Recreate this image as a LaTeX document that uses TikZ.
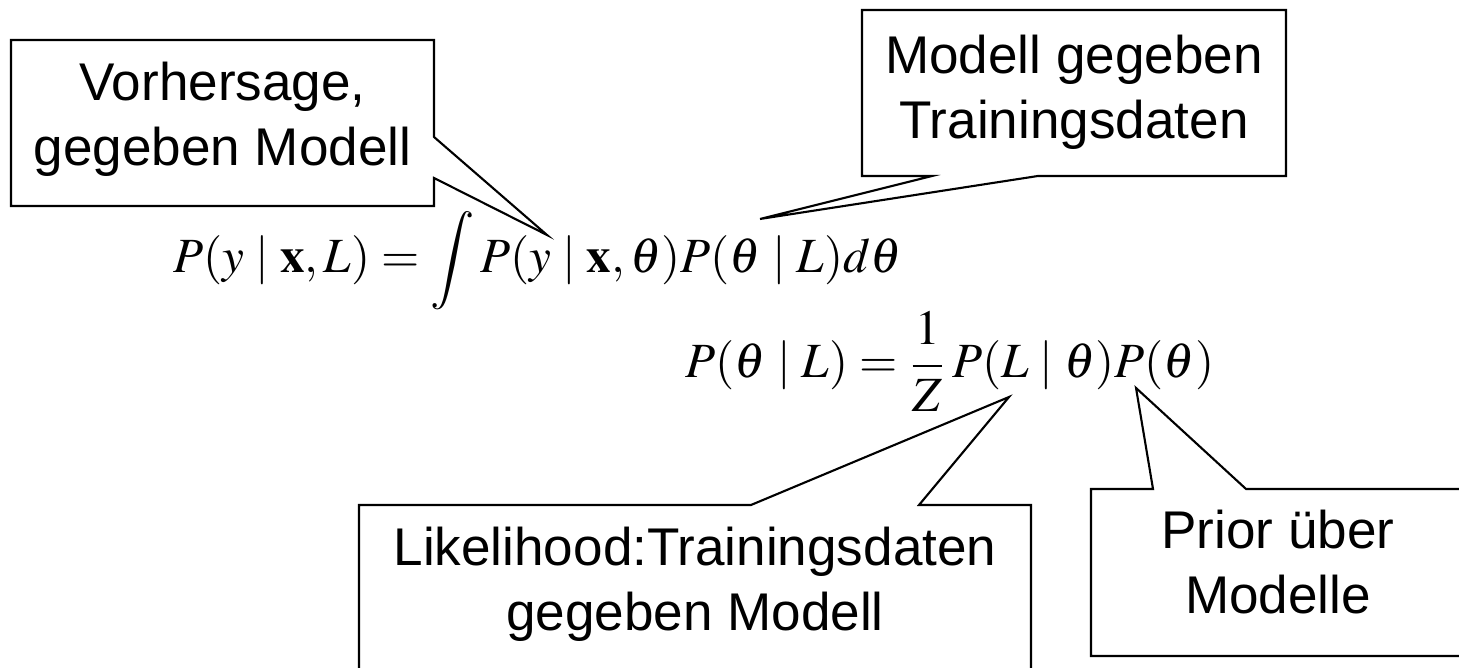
\documentclass[tikz,border=0pt]{standalone}
\usepackage{mathptmx}
\usepackage[no-math]{fontspec}
\setmainfont{Liberation Sans}
\usetikzlibrary{positioning}

\tikzset{
  callout/.style={draw, line width=0.6pt, line join=miter, fill=white},
  calltext/.style={font=\fontsize{15.1}{18.5}\selectfont, align=center, inner sep=0pt},
  formula/.style={font=\fontsize{14}{16.8}\selectfont, inner sep=0pt, anchor=base west}
}

\begin{document}
\begin{tikzpicture}[scale=1]
  \useasboundingbox (0,0) rectangle (14.59,6.68);
  \clip (0,0) rectangle (14.59,6.68);

  % Formulas
  \node[formula] (predict) at (1.73,3.95)
    {$\displaystyle P(y\mid\mathbf{x},L)=\int P(y\mid\mathbf{x},\theta)P(\theta\mid L)d\theta$};
  \node[formula] (bayes) at (6.85,2.90)
    {$\displaystyle P(\theta\mid L)=\frac{1}{Z}\,P(L\mid\theta)P(\theta)$};

  % Pointer tips
  \coordinate (tippred)  at (5.47,4.33);
  \coordinate (tippost)  at (7.60,4.49);
  \coordinate (tiplike)  at (10.09,2.71);
  \coordinate (tipprior) at (11.36,2.80);

  % Callout boxes
  \draw[callout] (0.11,6.28) -- (4.34,6.28) -- (4.34,5.31) -- (tippred)
    -- (4.34,4.90) -- (4.34,4.62) -- (0.11,4.62) -- cycle;
  \draw[callout] (8.62,6.58) -- (12.86,6.58) -- (12.86,4.92) -- (10.38,4.92)
    -- (tippost) -- (9.32,4.92) -- (8.62,4.92) -- cycle;
  \draw[callout] (3.59,1.63) -- (7.51,1.63) -- (tiplike) -- (9.19,1.63)
    -- (10.31,1.63) -- (10.31,-0.5) -- (3.59,-0.5) -- cycle;
  \draw[callout] (10.91,1.79) -- (11.53,1.79) -- (tipprior) -- (12.46,1.79)
    -- (14.65,1.79) -- (14.65,0.12) -- (10.91,0.12) -- cycle;

  % Labels
  \node[calltext] (vorhersage) at (2.225,5.485) {Vorhersage,\\gegeben Modell};
  \node[calltext] (posterior)  at (10.74,5.76)  {Modell gegeben\\Trainingsdaten};
  \node[calltext] (likelihood) at (6.95,0.835)  {Likelihood:Trainingsdaten\\gegeben Modell};
  \node[calltext] (prior)      at (12.78,1.06)  {Prior über\\Modelle};
\end{tikzpicture}
\end{document}
